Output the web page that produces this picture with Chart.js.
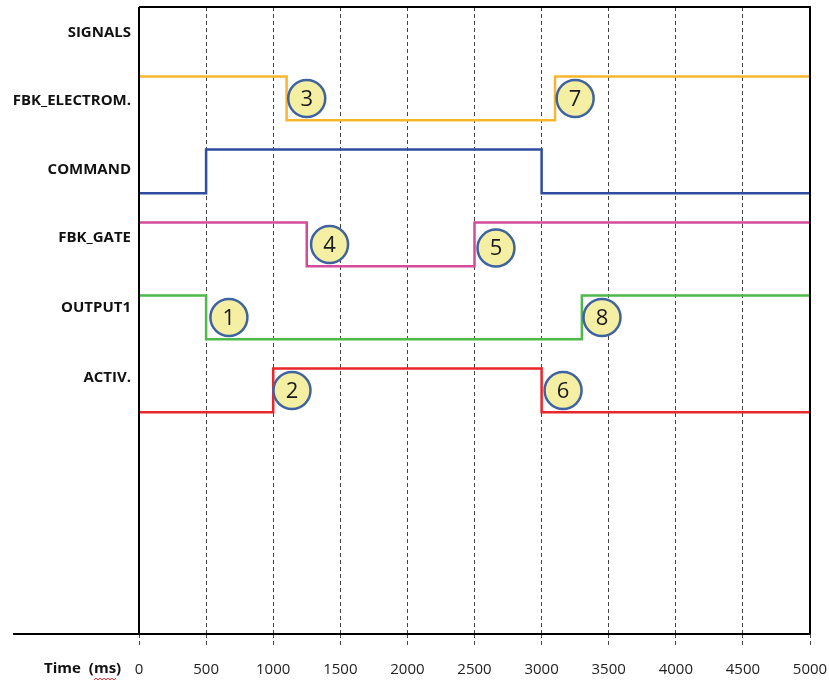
<!DOCTYPE html>
<html>
<head>
<meta charset="utf-8">
<script src="https://cdn.jsdelivr.net/npm/chart.js@4/dist/chart.umd.min.js"></script>
<style>
  html, body { margin: 0; padding: 0; background: #fff; }
  #wrap { width: 829px; height: 686px; }
</style>
</head>
<body>
<div id="wrap"><canvas id="myChart" width="829" height="686"></canvas></div>
<script>
// signal names, top to bottom (row 0 is the header)
var signalNames = ['SIGNALS', 'FBK_ELECTROM.', 'COMMAND', 'FBK_GATE', 'OUTPUT1', 'ACTIV.'];
// row value where each name label sits
var signalLabelRows = [0.1, 1.035, 1.98, 2.91, 3.87, 4.83];
var signalColors = ['', '#f8b62c', '#2f4d9e', '#d44b9c', '#4fb84b', '#e8262b'];

// transition times (ms) and logic states for each signal
var fbkElectromTimes = [0, 1100, 3100, 5000];
var fbkElectromStates = [1, 0, 1, 1];
var commandTimes = [0, 500, 3000, 5000];
var commandStates = [0, 1, 0, 0];
var fbkGateTimes = [0, 1250, 2500, 5000];
var fbkGateStates = [1, 0, 1, 1];
var output1Times = [0, 500, 3300, 5000];
var output1States = [1, 0, 1, 1];
var activTimes = [0, 1000, 3000, 5000];
var activStates = [0, 1, 0, 0];

// numbered markers: label, time (ms), row
var markerLabels = ['1', '2', '3', '4', '5', '6', '7', '8'];
var markerTimes = [670, 1140, 1250, 1420, 2660, 3160, 3250, 3450];
var markerRows = [4, 5, 1, 3, 3.05, 5, 1, 4];

// x axis ticks
var timeTicks = [0, 500, 1000, 1500, 2000, 2500, 3000, 3500, 4000, 4500, 5000];

var signalTimes = [null, fbkElectromTimes, commandTimes, fbkGateTimes, output1Times, activTimes];
var signalStates = [null, fbkElectromStates, commandStates, fbkGateStates, output1States, activStates];

var datasets = [];

datasets.push({
    type: 'scatter',
    label: 'markers',
    order: 0,
    data: markerTimes.map(function (t, i) { return { x: t, y: markerRows[i] }; }),
    pointRadius: 18.5,
    pointHoverRadius: 18.5,
    pointBackgroundColor: '#f4efa2',
    pointBorderColor: '#3f63a0',
    pointBorderWidth: 2.5
});

for (var s = 1; s < signalNames.length; s++) {
    (function (row) {
        datasets.push({
            type: 'line',
            label: signalNames[row],
            order: 1,
            stepped: 'before',
            data: signalTimes[row].map(function (t, i) {
                return { x: t, y: row + (signalStates[row][i] ? -0.3 : 0.3) };
            }),
            borderColor: signalColors[row],
            borderWidth: 2.5,
            pointRadius: 0,
            fill: false
        });
    })(s);
}

// frame, extended baseline, "Time (ms)" label and marker numbers
var extrasPlugin = {
    id: 'extras',
    afterDatasetsDraw: function (chart) {
        var ctx = chart.ctx;
        var meta = chart.getDatasetMeta(0);
        ctx.save();
        ctx.fillStyle = '#1a1a1a';
        ctx.font = '22px "Open Sans", sans-serif';
        ctx.textAlign = 'center';
        ctx.textBaseline = 'middle';
        meta.data.forEach(function (el, i) {
            ctx.fillText(markerLabels[i], el.x, el.y + 1);
        });
        ctx.restore();
    },
    afterDraw: function (chart) {
        var ctx = chart.ctx;
        var a = chart.chartArea;
        ctx.save();
        ctx.strokeStyle = '#000';
        ctx.lineWidth = 2;
        ctx.setLineDash([]);
        ctx.beginPath();
        ctx.moveTo(a.left, a.top);
        ctx.lineTo(a.right, a.top);
        ctx.lineTo(a.right, a.bottom);
        ctx.moveTo(13, a.bottom);
        ctx.lineTo(a.right, a.bottom);
        ctx.moveTo(a.left, a.top);
        ctx.lineTo(a.left, a.bottom);
        ctx.stroke();

        ctx.fillStyle = '#111';
        ctx.font = 'bold 15px "Open Sans", sans-serif';
        ctx.textAlign = 'left';
        ctx.textBaseline = 'middle';
        ctx.fillText('Time', 44, 669);
        var w = ctx.measureText('Time').width;
        var x0 = 44 + w + 8;
        ctx.fillText('(ms)', x0, 669);
        var wp = ctx.measureText('(').width;
        var wm = ctx.measureText('ms').width;
        // red spell-check squiggle under "ms"
        ctx.strokeStyle = '#e03030';
        ctx.lineWidth = 1;
        ctx.beginPath();
        for (var x = x0 + wp; x <= x0 + wp + wm; x += 2) {
            var yy = 679 + ((Math.round((x - x0) / 2) % 2) ? 1 : -1);
            if (x === x0 + wp) ctx.moveTo(x, yy); else ctx.lineTo(x, yy);
        }
        ctx.stroke();
        ctx.restore();
    }
};

var ctx = document.getElementById('myChart').getContext('2d');
var chart = new Chart(ctx, {
    data: { datasets: datasets },
    options: {
        responsive: false,
        animation: false,
        layout: { autoPadding: false, padding: { top: 7, right: 19, left: 0, bottom: 0 } },
        plugins: {
            legend: { display: false },
            tooltip: { enabled: false }
        },
        scales: {
            x: {
                type: 'linear',
                min: 0,
                max: 5000,
                afterBuildTicks: function (scale) {
                    scale.ticks = timeTicks.map(function (v) { return { value: v }; });
                },
                afterFit: function (scale) {
                    scale.height = 52;
                    scale.paddingLeft = 0;
                    scale.paddingRight = 0;
                },
                grid: {
                    color: '#444',
                    lineWidth: 1,
                    tickBorderDash: [4, 3],
                    tickColor: '#444',
                    tickLength: 12
                },
                border: { display: false, dash: [4, 3] },
                ticks: {
                    padding: 15,
                    color: '#222',
                    font: { family: '"Open Sans", sans-serif', size: 15 },
                    maxRotation: 0,
                    autoSkip: false,
                    callback: function (value) { return String(value); }
                }
            },
            y: {
                type: 'linear',
                reverse: true,
                min: -0.253,
                max: 8.336,
                afterBuildTicks: function (scale) {
                    scale.ticks = signalLabelRows.map(function (v) { return { value: v }; });
                },
                afterFit: function (scale) {
                    scale.width = 139;
                    scale.paddingTop = 0;
                    scale.paddingBottom = 0;
                },
                grid: { display: false },
                border: { display: false },
                ticks: {
                    padding: 0,
                    color: '#111',
                    font: { family: '"Open Sans", sans-serif', size: 15, weight: 'bold' },
                    autoSkip: false,
                    callback: function (value, index) { return signalNames[index]; }
                }
            }
        }
    },
    plugins: [extrasPlugin]
});
</script>
</body>
</html>
